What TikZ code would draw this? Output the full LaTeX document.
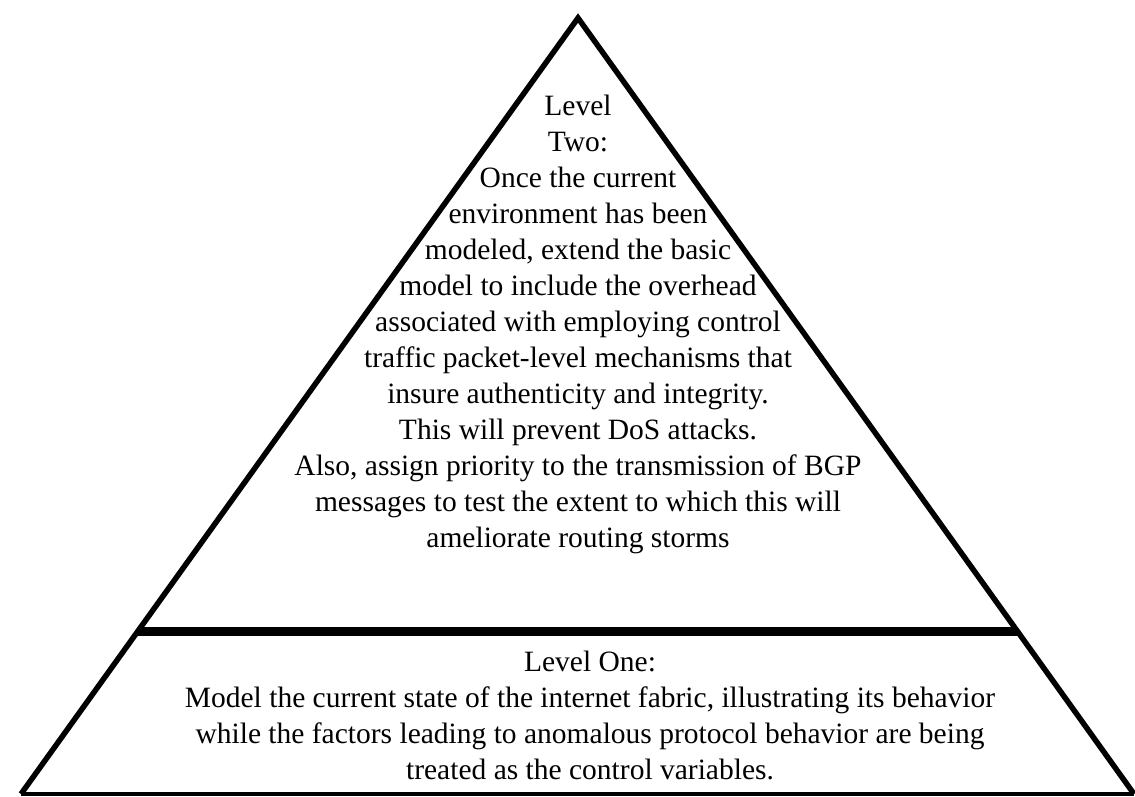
\documentclass[tikz,border=0pt]{standalone}
\usepackage{fontspec}
\setmainfont{Liberation Serif}
\usetikzlibrary{calc}
\begin{document}
\begin{tikzpicture}[x=1pt,y=1pt,
  edge/.style={line width=5.5pt,line join=miter,line cap=butt},
  divider/.style={line width=9pt},
  block/.style={align=center,inner sep=0pt,anchor=north,
    font=\fontsize{29.5}{36}\selectfont}]
  \useasboundingbox (0,0) rectangle (1135,797);
  % corners of the pyramid
  \coordinate (apex) at (578,779);
  \coordinate (bl) at (21,3);
  \coordinate (br) at (1134,3);
  % ends of the dividing bar, on the two sloped sides
  \coordinate (barL) at ($(apex)!0.791!(bl)$);
  \coordinate (barR) at ($(apex)!0.791!(br)$);

  \draw[edge] (bl) -- (apex) -- (br);
  \draw[line width=4pt] (bl) -- (br);
  \draw[divider] (barL) -- (barR);

  \node[block] (two) at (578,702) {Level\\Two:\\Once the current\\environment has been\\modeled, extend the basic\\model to include the overhead\\associated with employing control\\traffic packet-level mechanisms that\\insure authenticity and integrity.\\This will prevent DoS attacks.\\Also, assign priority to the transmission of BGP\\messages to test the extent to which this will\\ameliorate routing storms};

  \node[block] (one) at (590,146) {Level One:\\Model the current state of the internet fabric, illustrating its behavior\\while the factors leading to anomalous protocol behavior are being\\treated as the control variables.};
\end{tikzpicture}
\end{document}
